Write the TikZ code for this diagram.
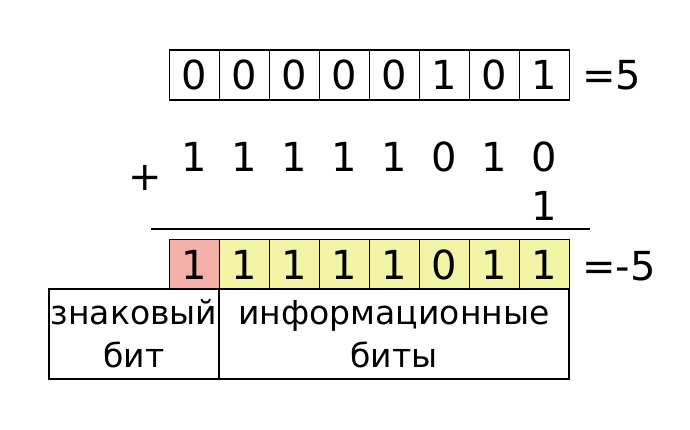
\documentclass[tikz,border=0pt]{standalone}
\usepackage{fontspec}
\setmainfont{DejaVu Sans}
\usetikzlibrary{positioning}
\definecolor{signred}{RGB}{242,176,168}
\definecolor{infoyellow}{RGB}{243,245,166}
\tikzset{
  bit/.style={draw, line width=1.6pt, minimum width=50pt, minimum height=50pt,
    inner sep=0pt, font=\fontsize{40}{40}\selectfont},
  digit/.style={inner sep=0pt, font=\fontsize{40}{40}\selectfont},
  label/.style={draw, line width=1.6pt, minimum height=90pt, inner sep=0pt,
    align=center, font=\fontsize{33}{43}\selectfont},
}
\begin{document}
\begin{tikzpicture}[x=1pt,y=-1pt]
\useasboundingbox (0,0) rectangle (690,430);
% first number
\foreach \b [count=\i] in {0,0,0,0,0,1,0,1}
  \node[bit] (a\i) at (144.5+50*\i,75) {\b};
\node[digit, anchor=west] (av) at (582,75) {=5};
% inverted bits and the one to add
\foreach \b [count=\i] in {1,1,1,1,1,0,1,0}
  \node[digit] (n\i) at (144.5+50*\i,157) {\b};
\node[digit] (one) at (544.5,206) {1};
\node[digit] (plus) at (145,178) {+};
\coordinate (l1) at (151,229);
\coordinate (l2) at (590,229);
\draw[line width=1.6pt] (l1) -- (l2);
% result
\node[bit, fill=signred] (r1) at (194.5,264.5) {1};
\foreach \b [count=\i from 2] in {1,1,1,1,0,1,1}
  \node[bit, fill=infoyellow] (r\i) at (144.5+50*\i,264.5) {\b};
\node[digit, anchor=west] (rv) at (582,266) {=-5};
% what the bits mean
\node[label, minimum width=170pt] (sign) at (134,334) {знаковый\\бит};
\node[label, minimum width=350pt] (info) at (394,334) {информационные\\биты};
\end{tikzpicture}
\end{document}
